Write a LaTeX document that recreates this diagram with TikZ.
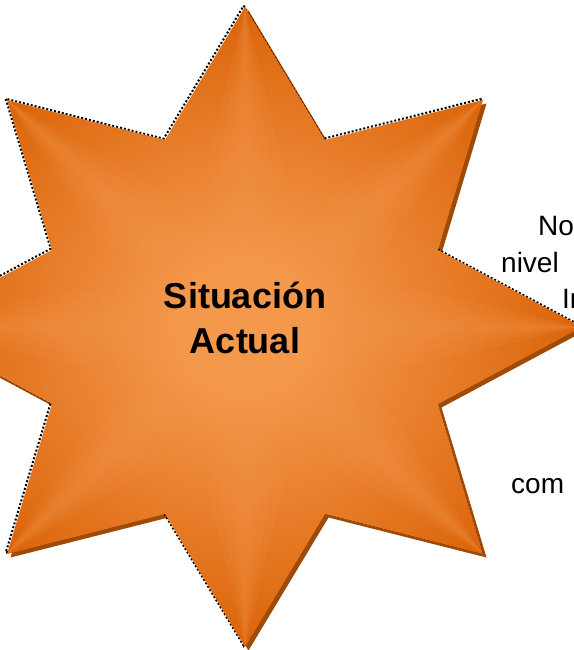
\documentclass[tikz,border=0pt]{standalone}
\usepackage{fontspec}
\setmainfont{Liberation Sans}
\usetikzlibrary{calc}
\definecolor{starlight}{RGB}{244,152,76}
\definecolor{stardark}{RGB}{220,102,12}
\definecolor{starshadow}{RGB}{158,74,8}
\pgfdeclareradialshading{starshade}{\pgfpoint{0bp}{0bp}}{color(0bp)=(starlight); color(5bp)=(starlight); color(24bp)=(stardark); color(50bp)=(stardark)}
\begin{document}
\begin{tikzpicture}[x=1pt,y=-1pt,
  sidetext/.style={font=\fontsize{28}{34}\selectfont, text=black, inner sep=0pt, anchor=base west},
  maintext/.style={font=\fontsize{36}{45}\selectfont\bfseries, text=black, align=center, inner sep=0pt},
  raylayer/.style={fill=starlight, fill opacity=0.12}]
\useasboundingbox (0,0) rectangle (573,650);
\fill[white] (0,0) rectangle (573,650);
\def\starpath{(245,7) -- (325,140) -- (483,100) -- (438,250) -- (582,327) -- (438,404) -- (483,554) -- (325,514) -- (245,647) -- (165,514) -- (7,554) -- (52,404) -- (-92,327) -- (52,250) -- (7,100) -- (165,140) -- cycle}
\coordinate (C) at (245,327);
% side texts
\node[sidetext] (t1) at (538,235) {No};
\node[sidetext] (t2) at (501,272) {nivel};
\node[sidetext] (t3) at (562,308) {In};
\node[sidetext] (t4) at (511,493) {com};
% shadow
\begin{scope}[shift={(3.5,3.5)}]
\fill[starshadow] \starpath;
\end{scope}
% dark jagged edge
\begin{scope}[shift={(-1.3,-1.3)}]
\draw[black, line width=2pt, dash pattern=on 2pt off 2pt] \starpath;
\end{scope}
% star body
\shade[shading=starshade] \starpath;
% soft light rays toward the points
\begin{scope}
\clip \starpath;
\foreach \px/\py in {245/7, 483/100, 582/327, 483/554, 245/647, 7/554, -92/327, 7/100} {
  \coordinate (P) at (\px,\py);
  \coordinate (M) at ($(C)!0.5!(P)$);
  \foreach \w in {8,16,26,38} {
    \fill[raylayer] (C) -- ($(M)!\w pt!90:(P)$) -- (P) -- ($(M)!\w pt!-90:(P)$) -- cycle;
  }
}
\end{scope}
\node[maintext] (title) at (245,318) {Situación\\Actual};
\end{tikzpicture}
\end{document}
